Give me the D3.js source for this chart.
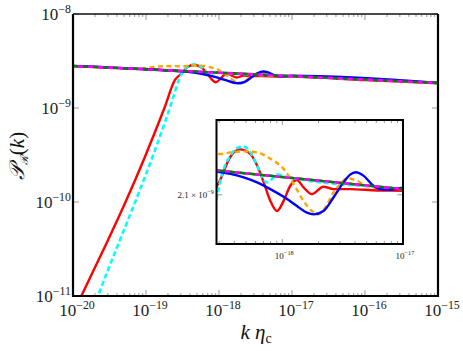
<!DOCTYPE html>
<html>
<head>
<meta charset="utf-8">
<script src="https://cdn.jsdelivr.net/npm/d3@7"></script>
<style>
body { margin: 0; background: #fff; }
text { font-family: "Liberation Serif", "DejaVu Serif", serif; }
</style>
</head>
<body>
<div id="chart"></div>
<script>
// curves as [log10 k, log10 P]
const powerLaw = [[-20, -8.553], [-17.5, -8.643], [-15, -8.733]];
const redCurve = [[-20.0, -11.19], [-19.89, -11.007], [-19.585, -10.511], [-19.288, -10.014], [-19.014, -9.518],
  [-18.749, -9.003], [-18.603, -8.702], [-18.511, -8.631], [-18.43, -8.565], [-18.352, -8.543],
  [-18.264, -8.557], [-18.209, -8.591], [-18.154, -8.641], [-18.099, -8.696], [-18.044, -8.726],
  [-17.989, -8.696], [-17.934, -8.651], [-17.879, -8.634], [-17.824, -8.656], [-17.755, -8.676],
  [-17.659, -8.654], [-17.576, -8.661], [-17.438, -8.661], [-17.217, -8.665], [-17.0, -8.666],
  [-16.0, -8.703], [-15.0, -8.738]];
const cyanCurve = [[-19.8, -11.29], [-19.662, -11.007], [-18.62, -8.87], [-18.55, -8.70], [-18.489, -8.605],
  [-18.43, -8.562], [-18.374, -8.539], [-18.32, -8.535], [-18.264, -8.552], [-18.209, -8.591],
  [-18.168, -8.626], [-18.126, -8.641], [-18.085, -8.631], [-18.044, -8.618], [-17.95, -8.626],
  [-17.0, -8.661], [-15.0, -8.733]];
const orangeCurve = [[-20, -8.553], [-19.5, -8.571], [-19.1, -8.579], [-18.8, -8.557], [-18.6, -8.555],
  [-18.512, -8.557], [-18.43, -8.552], [-18.32, -8.549], [-18.209, -8.552], [-18.099, -8.571],
  [-17.989, -8.601], [-17.906, -8.646], [-17.824, -8.696], [-17.755, -8.726], [-17.7, -8.736],
  [-17.645, -8.716], [-17.576, -8.671], [-17.521, -8.646], [-17.465, -8.629], [-17.383, -8.636],
  [-17.3, -8.651], [-17.217, -8.658], [-17.0, -8.661], [-15.0, -8.733]];
const blueCurve = [[-20, -8.553], [-18.8, -8.596], [-18.54, -8.609], [-18.43, -8.616], [-18.32, -8.626],
  [-18.209, -8.641], [-18.099, -8.661], [-17.989, -8.684], [-17.879, -8.711], [-17.796, -8.731],
  [-17.741, -8.736], [-17.659, -8.726], [-17.576, -8.686], [-17.493, -8.641], [-17.438, -8.618],
  [-17.391, -8.611], [-17.328, -8.621], [-17.245, -8.651], [-17.19, -8.661], [-17.107, -8.663],
  [-17.025, -8.658], [-17.0, -8.657], [-15.0, -8.733]];

const xMajor = [-20, -19, -18, -17, -16, -15];
const yMajor = [-11, -10, -9, -8];
const insetXMajor = [-18, -17];
const insetYTick = 2.1e-9;

const width = 463, height = 351;
const svg = d3.select("#chart").append("svg")
  .attr("width", width).attr("height", height);

const x = d3.scaleLog().domain([1e-20, 1e-15]).range([73, 438]);
const y = d3.scaleLog().domain([1e-11, 1e-8]).range([296, 14]);
const xi = d3.scaleLog().domain([2.85e-19, 1e-17]).range([216.5, 403]);
const yi = d3.scaleLog().domain([1.5e-9, 3.5e-9]).range([244, 120]);

const series = [
  { d: powerLaw, color: "#000", w: 2.2, dash: null },
  { d: redCurve, color: "#ff0000", w: 2.4, dash: null },
  { d: cyanCurve, color: "#00ffff", w: 2.6, dash: "5,3" },
  { d: orangeCurve, color: "#ffa500", w: 2.4, dash: "5,3.5" },
  { d: blueCurve, color: "#0000ff", w: 2.4, dash: null },
  { d: powerLaw, color: "#008000", w: 2.6, dash: "5,5" },
  { d: powerLaw, color: "#ff00ff", w: 2.6, dash: "5,5", off: 5 }
];

const defs = svg.append("defs");
defs.append("clipPath").attr("id", "clipMain").append("rect")
  .attr("x", 73).attr("y", 14).attr("width", 365).attr("height", 282);
defs.append("clipPath").attr("id", "clipInset").append("rect")
  .attr("x", 216.5).attr("y", 120).attr("width", 186.5).attr("height", 124);

function drawLines(g, sx, sy) {
  const line = d3.line()
    .x(p => sx(Math.pow(10, p[0])))
    .y(p => sy(Math.pow(10, p[1])))
    .curve(d3.curveMonotoneX);
  series.forEach(s => {
    g.append("path")
      .attr("d", line(s.d))
      .attr("fill", "none")
      .attr("stroke", s.color)
      .attr("stroke-width", s.w)
      .attr("stroke-dasharray", s.dash)
      .attr("stroke-dashoffset", s.off || 0);
  });
}

// minor tick positions for each decade
function minors(lo, hi) {
  const out = [];
  for (let e = lo; e < hi; e++) for (let m = 2; m <= 9; m++) out.push(m * Math.pow(10, e));
  return out;
}

function supLabel(sel, base, exp, size) {
  sel.append("tspan").text(base);
  sel.append("tspan").attr("dy", -size * 0.42).attr("font-size", size * 0.7).text("\u2212" + Math.abs(exp));
}

// main plot lines
drawLines(svg.append("g").attr("clip-path", "url(#clipMain)"), x, y);

// ticks of main plot
const tickG = svg.append("g").attr("stroke", "#999").attr("stroke-width", 1);
xMajor.forEach(e => {
  const px = x(Math.pow(10, e));
  tickG.append("line").attr("x1", px).attr("x2", px).attr("y1", 296).attr("y2", 290);
  tickG.append("line").attr("x1", px).attr("x2", px).attr("y1", 14).attr("y2", 20);
});
minors(-20, -15).forEach(v => {
  const px = x(v);
  tickG.append("line").attr("x1", px).attr("x2", px).attr("y1", 296).attr("y2", 293);
  tickG.append("line").attr("x1", px).attr("x2", px).attr("y1", 14).attr("y2", 17);
});
yMajor.forEach(e => {
  const py = y(Math.pow(10, e));
  tickG.append("line").attr("x1", 73).attr("x2", 79).attr("y1", py).attr("y2", py);
  tickG.append("line").attr("x1", 438).attr("x2", 432).attr("y1", py).attr("y2", py);
});

// frame
svg.append("line").attr("x1", 73).attr("x2", 438).attr("y1", 14).attr("y2", 14)
  .attr("stroke", "#111").attr("stroke-width", 1.6);
svg.append("path").attr("d", "M73,14V296H438V14")
  .attr("fill", "none").attr("stroke", "#000").attr("stroke-width", 2.2);

// tick labels
xMajor.forEach(e => {
  const t = svg.append("text").attr("x", x(Math.pow(10, e)) + 4).attr("y", 316)
    .attr("text-anchor", "middle").attr("font-size", 17).attr("fill", "#222");
  supLabel(t, "10", e, 17);
});
yMajor.forEach(e => {
  const t = svg.append("text").attr("x", 71).attr("y", y(Math.pow(10, e)) + 6)
    .attr("text-anchor", "end").attr("font-size", 17).attr("fill", "#222");
  supLabel(t, "10", e, 17);
});

// axis titles
const xl = svg.append("text").attr("x", 256).attr("y", 339).attr("text-anchor", "middle")
  .attr("font-size", 21).attr("fill", "#111");
xl.append("tspan").attr("font-style", "italic").text("k \u03b7");
xl.append("tspan").attr("font-size", 14).attr("dy", 4).text("c");

const yl = svg.append("text").attr("transform", "translate(24,156) rotate(-90)")
  .attr("text-anchor", "middle").attr("font-size", 21).attr("fill", "#111");
yl.append("tspan").attr("font-style", "italic").text("\ud835\udcab");
yl.append("tspan").attr("font-size", 11).attr("dy", 4).attr("font-style", "italic").text("\u211b");
yl.append("tspan").attr("dy", -4).text("(");
yl.append("tspan").attr("font-style", "italic").text("k");
yl.append("tspan").text(")");

// inset
svg.append("rect").attr("x", 216.5).attr("y", 120).attr("width", 186.5).attr("height", 124)
  .attr("fill", "#fff");
drawLines(svg.append("g").attr("clip-path", "url(#clipInset)"), xi, yi);

const itG = svg.append("g").attr("stroke", "#999").attr("stroke-width", 1);
insetXMajor.forEach(e => {
  const px = xi(Math.pow(10, e));
  itG.append("line").attr("x1", px).attr("x2", px).attr("y1", 244).attr("y2", 239);
  itG.append("line").attr("x1", px).attr("x2", px).attr("y1", 120).attr("y2", 125);
});
minors(-19, -17).filter(v => v >= 2.85e-19 && v < 1e-17).forEach(v => {
  const px = xi(v);
  itG.append("line").attr("x1", px).attr("x2", px).attr("y1", 244).attr("y2", 241);
  itG.append("line").attr("x1", px).attr("x2", px).attr("y1", 120).attr("y2", 123);
});
const pyT = yi(insetYTick);
itG.append("line").attr("x1", 216.5).attr("x2", 222).attr("y1", pyT).attr("y2", pyT);
itG.append("line").attr("x1", 403).attr("x2", 397.5).attr("y1", pyT).attr("y2", pyT);

svg.append("rect").attr("x", 216.5).attr("y", 120).attr("width", 186.5).attr("height", 124)
  .attr("fill", "none").attr("stroke", "#000").attr("stroke-width", 2);

insetXMajor.forEach(e => {
  const t = svg.append("text").attr("x", xi(Math.pow(10, e)) + 2).attr("y", 259)
    .attr("text-anchor", "middle").attr("font-size", 9).attr("fill", "#222");
  supLabel(t, "10", e, 9);
});
const yt = svg.append("text").attr("x", 214).attr("y", pyT + 3)
  .attr("text-anchor", "end").attr("font-size", 9).attr("fill", "#222");
supLabel(yt, "2.1 \u00d7 10", -9, 9);
</script>
</body>
</html>
